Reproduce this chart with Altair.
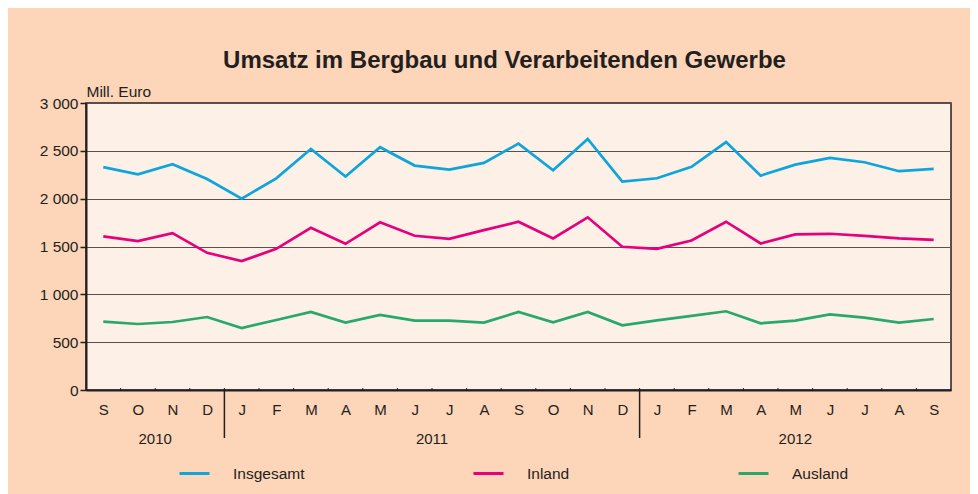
import altair as alt
import pandas as pd

months = ["S", "O", "N", "D", "J", "F", "M", "A", "M", "J", "J", "A",
          "S", "O", "N", "D", "J", "F", "M", "A", "M", "J", "J", "A", "S"]
insgesamt = [2330, 2255, 2360, 2205, 2000, 2213, 2520, 2232, 2538, 2346, 2304, 2374,
             2576, 2297, 2625, 2178, 2213, 2332, 2591, 2241, 2356, 2426, 2381, 2287, 2311]
inland = [1605, 1556, 1640, 1434, 1347, 1476, 1696, 1528, 1753, 1612, 1580, 1671,
          1759, 1584, 1805, 1497, 1476, 1563, 1759, 1532, 1626, 1633, 1612, 1584, 1570]
ausland = [715, 690, 711, 763, 648, 732, 816, 704, 784, 725, 725, 704,
           816, 707, 816, 676, 728, 774, 823, 697, 725, 791, 757, 704, 742]
series_names = ["Insgesamt", "Inland", "Ausland"]
series_colors = ["#0ea5dc", "#e5007d", "#28a96a"]
years = ["2010", "2011", "2012"]
year_centers = [1.5, 9.5, 20.0]
year_separators = [3.5, 15.5]

INK = "#231f20"
BG = "#fdd5b9"
PLOT_BG = "#fdf0e7"

rows = []
for name, vals in zip(series_names, [insgesamt, inland, ausland]):
    for i, v in enumerate(vals):
        rows.append({"i": i, "value": v, "serie": name})
df = pd.DataFrame(rows)

n = len(months)
xscale = alt.Scale(domain=[-0.5, n - 0.5], nice=False, zero=False)
yscale = alt.Scale(domain=[0, 3000], nice=False)

month_expr = "[" + ",".join("'%s'" % m for m in months) + "][datum.value]"

xaxis = alt.Axis(values=list(range(n)), labelExpr=month_expr, ticks=False,
                 labelOverlap=False, labelFlush=False,
                 title=None, grid=False, labelFontSize=15, labelColor=INK,
                 labelPadding=12, domainColor=INK, domainWidth=2)

lines = alt.Chart(df).mark_line(strokeWidth=2.7, clip=True).encode(
    x=alt.X("i:Q", scale=xscale, axis=xaxis),
    y=alt.Y("value:Q", scale=yscale,
            axis=alt.Axis(values=[0, 500, 1000, 1500, 2000, 2500, 3000],
                          labelExpr="replace(format(datum.value, ','), ',', ' ')",
                          title="Mill. Euro", titleAngle=0, titleAlign="left",
                          titleBaseline="alphabetic", titleX=0, titleY=-7,
                          titleFontSize=15.5, titleFontWeight="normal", titleColor=INK,
                          labelFontSize=15.5, labelColor=INK, tickSize=6, tickColor=INK,
                          tickWidth=1.5, labelPadding=2, grid=True, gridColor="#5e4f48",
                          gridWidth=1.2, domainColor=INK, domainWidth=2,
                          labelOverlap=False)),
    color=alt.Color("serie:N",
                    scale=alt.Scale(domain=series_names, range=series_colors),
                    legend=alt.Legend(title=None, orient="none", direction="horizontal",
                                      legendX=92, legendY=354, symbolType="stroke",
                                      symbolSize=900, symbolStrokeWidth=3,
                                      labelFontSize=15.5, labelColor=INK, labelOffset=22,
                                      columnPadding=162, labelLimit=300)),
)

bdf = pd.DataFrame({"b": [k + 0.5 for k in range(n - 1)]})
minor = alt.Chart(bdf).mark_rule(color=INK, strokeWidth=1).encode(
    x=alt.X("b:Q", scale=xscale, axis=xaxis), y=alt.value(285), y2=alt.value(287))

sdf = pd.DataFrame({"s": year_separators})
seps = alt.Chart(sdf).mark_rule(color=INK, strokeWidth=1.5, clip=False).encode(
    x=alt.X("s:Q", scale=xscale, axis=xaxis), y=alt.value(286), y2=alt.value(335))

ydf = pd.DataFrame({"c": year_centers, "year": years})
ylabels = alt.Chart(ydf).mark_text(fontSize=15, color=INK, baseline="alphabetic").encode(
    x=alt.X("c:Q", scale=xscale, axis=xaxis), y=alt.value(341), text="year:N")

chart = alt.layer(lines, minor, seps, ylabels).properties(
    width=865, height=287,
    title=alt.TitleParams("Umsatz im Bergbau und Verarbeitenden Gewerbe",
                          fontSize=24, fontWeight="bold", color=INK, anchor="middle",
                          dx=-14, offset=11),
    autosize=alt.AutoSizeParams(type="none"),
    padding={"left": 78, "top": 95, "right": 19, "bottom": 104},
).configure(
    background=BG,
    font="Liberation Sans",
).configure_view(
    fill=PLOT_BG, stroke=INK, strokeWidth=1.5,
)

chart.save("out.html", embed_options={"renderer": "svg", "actions": False})
